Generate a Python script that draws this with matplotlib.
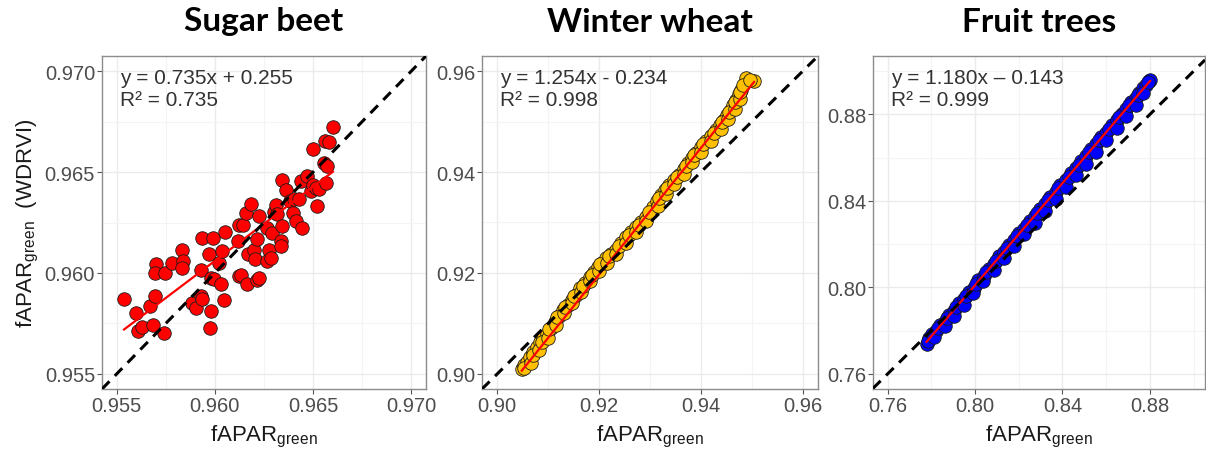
import numpy as np
import matplotlib.pyplot as plt

plt.rcParams['font.family'] = 'Liberation Sans'
plt.rcParams['mathtext.default'] = 'regular'

# Sugar beet
sb_x = [0.95537, 0.95597, 0.95609, 0.95631, 0.95670, 0.95683, 0.95693, 0.95699, 0.95693, 0.95741,
        0.95746, 0.95783, 0.95834, 0.95839, 0.95834, 0.95885, 0.95905, 0.95928, 0.95933, 0.95936,
        0.95928, 0.95970, 0.95992, 0.95978, 0.95973, 0.95978, 0.95995, 0.96021, 0.96038, 0.96050,
        0.96029, 0.96046, 0.96118, 0.96123, 0.96135, 0.96123, 0.96143, 0.96160, 0.96165, 0.96168,
        0.96185, 0.96199, 0.96204, 0.96216, 0.96213, 0.96224, 0.96224, 0.96267, 0.96267, 0.96275,
        0.96284, 0.96292, 0.96301, 0.96309, 0.96318, 0.96335, 0.96343, 0.96343, 0.96360, 0.96335,
        0.96382, 0.96399, 0.96403, 0.96411, 0.96428, 0.96445, 0.96437, 0.96467, 0.96487, 0.96499,
        0.96513, 0.96521, 0.96530, 0.96501, 0.96555, 0.96569, 0.96560, 0.96581, 0.96564, 0.96601]
sb_y = [0.95873, 0.95802, 0.95712, 0.95731, 0.95835, 0.95741, 0.95885, 0.96042, 0.95999, 0.95702,
        0.95999, 0.96050, 0.96116, 0.96058, 0.96025, 0.95852, 0.95824, 0.95885, 0.95869, 0.96171,
        0.96017, 0.96095, 0.96174, 0.95811, 0.95725, 0.95976, 0.95968, 0.96050, 0.96108, 0.96202,
        0.95946, 0.95865, 0.96158, 0.95984, 0.95992, 0.96240, 0.96240, 0.96295, 0.95943, 0.96092,
        0.96343, 0.96116, 0.96067, 0.96166, 0.95964, 0.96281, 0.95976, 0.96224, 0.96058, 0.96116,
        0.96075, 0.96199, 0.96301, 0.96339, 0.96290, 0.96158, 0.96463, 0.96232, 0.96409, 0.96133,
        0.96356, 0.96295, 0.96364, 0.96257, 0.96364, 0.96224, 0.96455, 0.96480, 0.96405, 0.96438,
        0.96422, 0.96331, 0.96414, 0.96612, 0.96546, 0.96529, 0.96656, 0.96648, 0.96447, 0.96724]

# Winter wheat
ww_x = [0.90482, 0.90530, 0.90580, 0.90650, 0.90710, 0.90780, 0.90841, 0.90900, 0.90971, 0.91050,
        0.91134, 0.91210, 0.91297, 0.91380, 0.91460, 0.91540, 0.91623, 0.91720, 0.91818, 0.91900,
        0.91981, 0.92060, 0.92144, 0.92240, 0.92340, 0.92440, 0.92535, 0.92630, 0.92731, 0.92830,
        0.92926, 0.93056, 0.93140, 0.93219, 0.93300, 0.93382, 0.93480, 0.93578, 0.93660, 0.93741,
        0.93820, 0.93904, 0.94000, 0.94099, 0.94200, 0.94295, 0.94380, 0.94457, 0.94520, 0.94588,
        0.94640, 0.94685, 0.94740, 0.94783, 0.94881, 0.95044,
        0.90530, 0.90670, 0.90700, 0.90810, 0.90880, 0.91000, 0.91020, 0.91150, 0.91180, 0.91310,
        0.91340, 0.91470, 0.91500, 0.91640, 0.91680, 0.91820, 0.91860, 0.92000, 0.92020, 0.92150,
        0.92200, 0.92340, 0.92390, 0.92530, 0.92580, 0.92730, 0.92780, 0.92930, 0.92990, 0.93150,
        0.93180, 0.93310, 0.93340, 0.93480, 0.93530, 0.93670, 0.93700, 0.93830, 0.93860, 0.94000,
        0.94050, 0.94200, 0.94250, 0.94390, 0.94420, 0.94540, 0.94550, 0.94660, 0.94660, 0.94760,
        0.94760, 0.94830, 0.94960]
ww_y = [0.90102, 0.90170, 0.90235, 0.90340, 0.90434, 0.90530, 0.90632, 0.90710, 0.90797, 0.90910,
        0.91030, 0.91150, 0.91261, 0.91360, 0.91459, 0.91570, 0.91692, 0.91810, 0.91925, 0.92020,
        0.92123, 0.92200, 0.92288, 0.92370, 0.92453, 0.92590, 0.92720, 0.92820, 0.92919, 0.93010,
        0.93117, 0.93316, 0.93430, 0.93547, 0.93640, 0.93746, 0.93850, 0.93944, 0.94060, 0.94177,
        0.94280, 0.94376, 0.94490, 0.94608, 0.94720, 0.94839, 0.94940, 0.95038, 0.95140, 0.95237,
        0.95330, 0.95435, 0.95540, 0.95634, 0.95867, 0.95801,
        0.90110, 0.90220, 0.90380, 0.90480, 0.90640, 0.90720, 0.90880, 0.90970, 0.91120, 0.91200,
        0.91330, 0.91400, 0.91540, 0.91620, 0.91740, 0.91840, 0.91960, 0.92040, 0.92180, 0.92200,
        0.92330, 0.92380, 0.92530, 0.92600, 0.92760, 0.92820, 0.92950, 0.93020, 0.93200, 0.93320,
        0.93480, 0.93560, 0.93690, 0.93760, 0.93900, 0.93970, 0.94120, 0.94190, 0.94330, 0.94390,
        0.94550, 0.94620, 0.94780, 0.94850, 0.94990, 0.95050, 0.95190, 0.95250, 0.95390, 0.95450,
        0.95590, 0.95720, 0.95830]

# Fruit trees
ft_x = [0.7778, 0.7790, 0.7805, 0.7822, 0.7840, 0.7861, 0.7880, 0.7902, 0.7925, 0.7948,
        0.7970, 0.7993, 0.8015, 0.8040, 0.8062, 0.8085, 0.8110, 0.8132, 0.8155, 0.8180,
        0.8202, 0.8225, 0.8250, 0.8273, 0.8297, 0.8320, 0.8345, 0.8368, 0.8390, 0.8415,
        0.8438, 0.8462, 0.8485, 0.8508, 0.8532, 0.8555, 0.8578, 0.8600, 0.8625, 0.8648,
        0.8670, 0.8692, 0.8715, 0.8735, 0.8752, 0.8768, 0.8782, 0.8795, 0.8801,
        0.7785, 0.7812, 0.7830, 0.7862, 0.7870, 0.7902, 0.7913, 0.7948, 0.7960, 0.7992,
        0.8004, 0.8038, 0.8050, 0.8085, 0.8098, 0.8132, 0.8144, 0.8178, 0.8192, 0.8225,
        0.8238, 0.8273, 0.8285, 0.8320, 0.8332, 0.8368, 0.8380, 0.8415, 0.8428, 0.8462,
        0.8474, 0.8508, 0.8520, 0.8555, 0.8566, 0.8600, 0.8612, 0.8648, 0.8660, 0.8692,
        0.8705, 0.8735, 0.8745, 0.8768, 0.8790]
ft_y = [0.7738, 0.7765, 0.7786, 0.7796, 0.7826, 0.7842, 0.7872, 0.7891, 0.7926, 0.7944,
        0.7979, 0.7998, 0.8032, 0.8053, 0.8087, 0.8106, 0.8143, 0.8162, 0.8196, 0.8220,
        0.8251, 0.8272, 0.8308, 0.8330, 0.8363, 0.8385, 0.8420, 0.8441, 0.8473, 0.8497,
        0.8530, 0.8552, 0.8585, 0.8607, 0.8641, 0.8662, 0.8695, 0.8716, 0.8750, 0.8772,
        0.8803, 0.8824, 0.8856, 0.8875, 0.8900, 0.8920, 0.8935, 0.8954, 0.8957,
        0.7752, 0.7770, 0.7812, 0.7822, 0.7858, 0.7868, 0.7910, 0.7920, 0.7962, 0.7975,
        0.8015, 0.8028, 0.8070, 0.8080, 0.8124, 0.8135, 0.8180, 0.8190, 0.8238, 0.8245,
        0.8290, 0.8298, 0.8346, 0.8352, 0.8402, 0.8408, 0.8458, 0.8462, 0.8512, 0.8518,
        0.8568, 0.8572, 0.8624, 0.8628, 0.8680, 0.8682, 0.8734, 0.8738, 0.8790, 0.8792,
        0.8842, 0.8845, 0.8890, 0.8898, 0.8950]

titles = ['Sugar beet', 'Winter wheat', 'Fruit trees']
fills = ['#FF0000', '#FFC000', '#0000FF']
slopes = [0.735, 1.254, 1.180]
intercepts = [0.255, -0.234, -0.143]
eq_texts = ['y = 0.735x + 0.255\nR² = 0.735',
            'y = 1.254x - 0.234\nR² = 0.998',
            'y = 1.180x \u2013 0.143\nR² = 0.999']
xlims = [(0.95425, 0.97075), (0.897, 0.963), (0.7533, 0.9052)]
ylims = [(0.95425, 0.97075), (0.897, 0.963), (0.753, 0.907)]
major_ticks = [[0.955, 0.960, 0.965, 0.970], [0.90, 0.92, 0.94, 0.96], [0.76, 0.80, 0.84, 0.88]]
minor_ticks = [[0.9575, 0.9625, 0.9675], [0.91, 0.93, 0.95], [0.78, 0.82, 0.86, 0.90]]
tick_fmt = ['{:.3f}', '{:.2f}', '{:.2f}']

xs_all = [sb_x, ww_x, ft_x]
ys_all = [sb_y, ww_y, ft_y]

fig = plt.figure(figsize=(12.06, 4.52), dpi=100)
W, H = 1206, 452
boxes = [(102, 426), (482, 818), (873, 1205)]
top, bottom = 57, 390

for i in range(3):
    l, r = boxes[i]
    ax = fig.add_axes([l / W, 1 - bottom / H, (r - l) / W, (bottom - top) / H])
    x = np.array(xs_all[i])
    y = np.array(ys_all[i])

    ax.scatter(x, y, s=95, c=fills[i], edgecolors='#1A1A1A', linewidths=0.6, zorder=3)
    xl = np.array([x.min(), x.max()])
    ax.plot(xl, slopes[i] * xl + intercepts[i], color='red', lw=1.6, zorder=4)
    ax.axline((0, 0), slope=1, color='black', lw=2.2, ls=(0, (3.5, 2.5)), zorder=5)

    ax.set_xlim(*xlims[i])
    ax.set_ylim(*ylims[i])
    ax.set_xticks(major_ticks[i])
    ax.set_yticks(major_ticks[i])
    ax.set_xticks(minor_ticks[i], minor=True)
    ax.set_yticks(minor_ticks[i], minor=True)
    ax.set_xticklabels([tick_fmt[i].format(v) for v in major_ticks[i]])
    ax.set_yticklabels([tick_fmt[i].format(v) for v in major_ticks[i]])
    ax.grid(which='major', color='#EBEBEB', lw=1.0, zorder=0)
    ax.grid(which='minor', color='#F4F4F4', lw=0.8, zorder=0)
    ax.set_axisbelow(True)
    ax.tick_params(which='major', length=3.5, width=0.8, color='#555555',
                   labelsize=14.5, labelcolor='#4D4D4D', pad=1.5)
    ax.tick_params(which='minor', length=0)
    for s in ax.spines.values():
        s.set_color('#8C8C8C')
        s.set_linewidth(1.0)

    ax.text(0.055, 0.965, eq_texts[i], transform=ax.transAxes, ha='left', va='top',
            fontsize=15, color='#333333', linespacing=1.2, zorder=6)
    ax.set_xlabel('fAPAR$_{green}$', fontsize=16, color='#1A1A1A', labelpad=6)
    if i == 0:
        ax.set_ylabel('fAPAR$_{green}$  (WDRVI)', fontsize=16, color='#1A1A1A', labelpad=3)

    fig.text((l + r) / 2 / W, 1 - 22 / H, titles[i], ha='center', va='center',
             fontsize=24, fontweight='bold', family='Lato')

fig.savefig('out.png', dpi=100)
